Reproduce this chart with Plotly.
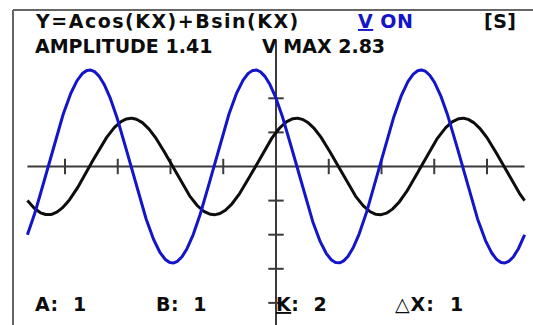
import numpy as np
import plotly.graph_objects as go

# Parameters of Y = A cos(KX) + B sin(KX)
A = 1
B = 1
K = 2
DX = 1

# Window and tick marks
x_min, x_max = -3 * np.pi / 2, 3 * np.pi / 2
x_ticks = [-4, -3, -2, -1, 1, 2, 3, 4]
y_ticks = [2, 1, -1, -2, -3, -4]
y_axis_top = 3.7
y_axis_bottom = -4.7

xs = np.linspace(x_min, x_max, 900)
pos = A * np.cos(K * xs) + B * np.sin(K * xs)
vel = K * (-A * np.sin(K * xs) + B * np.cos(K * xs))
amplitude = np.hypot(A, B)
vmax = K * amplitude

AXIS = "#3a3a3a"
BLUE = "#1414c8"
FONT = "DejaVu Sans"

fig = go.Figure()

# axes
fig.add_trace(go.Scatter(x=[x_min, x_max], y=[0, 0], mode="lines",
                         line=dict(color=AXIS, width=2), hoverinfo="skip"))
fig.add_trace(go.Scatter(x=[0, 0], y=[y_axis_bottom, y_axis_top], mode="lines",
                         line=dict(color=AXIS, width=2), hoverinfo="skip"))
fig.add_trace(go.Scatter(x=x_ticks, y=[0] * len(x_ticks), mode="markers",
                         marker=dict(symbol="line-ns", size=11,
                                     line=dict(color=AXIS, width=2)),
                         hoverinfo="skip"))
fig.add_trace(go.Scatter(x=[0] * len(y_ticks), y=y_ticks, mode="markers",
                         marker=dict(symbol="line-ew", size=11,
                                     line=dict(color=AXIS, width=2)),
                         hoverinfo="skip"))

# curves
fig.add_trace(go.Scatter(x=xs, y=pos, mode="lines",
                         line=dict(color="#0d0d0d", width=3), name="Y"))
fig.add_trace(go.Scatter(x=xs, y=vel, mode="lines",
                         line=dict(color=BLUE, width=3), name="V"))

# screen frame
fig.add_shape(type="line", xref="paper", yref="paper", x0=13 / 533, x1=13 / 533,
              y0=0, y1=1 - 10 / 325, line=dict(color="#666666", width=2))
fig.add_shape(type="line", xref="paper", yref="paper", x0=13 / 533, x1=1,
              y0=1 - 10 / 325, y1=1 - 10 / 325, line=dict(color="#666666", width=2))


def label(text, px, py, color="#0d0d0d", size=19, spacing=0.5):
    fig.add_annotation(text=f'<span style="letter-spacing:{spacing}px"><b>{text}</b></span>',
                       xref="paper", yref="paper",
                       x=px / 533, y=1 - py / 325, xanchor="left", yanchor="middle",
                       showarrow=False, font=dict(family=FONT, size=size, color=color))


label("Y=Acos(KX)+Bsin(KX)", 33, 21, spacing=1.5)
label("<u>V</u> ON", 356, 21, color=BLUE)
label("[S]", 482, 21)
label(f"AMPLITUDE {amplitude:.2f}", 33, 46, spacing=0)
label(f"V MAX {vmax:.2f}", 260, 46, spacing=0)
label(f"A:  {A}", 33, 304)
label(f"B:  {B}", 154, 304)
label(f"<u>K</u>:  {K}", 274, 304)
label(f"△X:  {DX}", 393, 304, spacing=1)

px_per_x = 52.75
px_per_y = 34.1
x0_px, y0_px = 276, 166.5
fig.update_layout(
    width=533, height=325,
    margin=dict(l=0, r=0, t=0, b=0),
    paper_bgcolor="white", plot_bgcolor="white",
    showlegend=False,
    xaxis=dict(range=[-x0_px / px_per_x, (533 - x0_px) / px_per_x],
               visible=False, fixedrange=True),
    yaxis=dict(range=[-(325 - y0_px) / px_per_y, y0_px / px_per_y],
               visible=False, fixedrange=True),
)

fig.write_html("out.html")
